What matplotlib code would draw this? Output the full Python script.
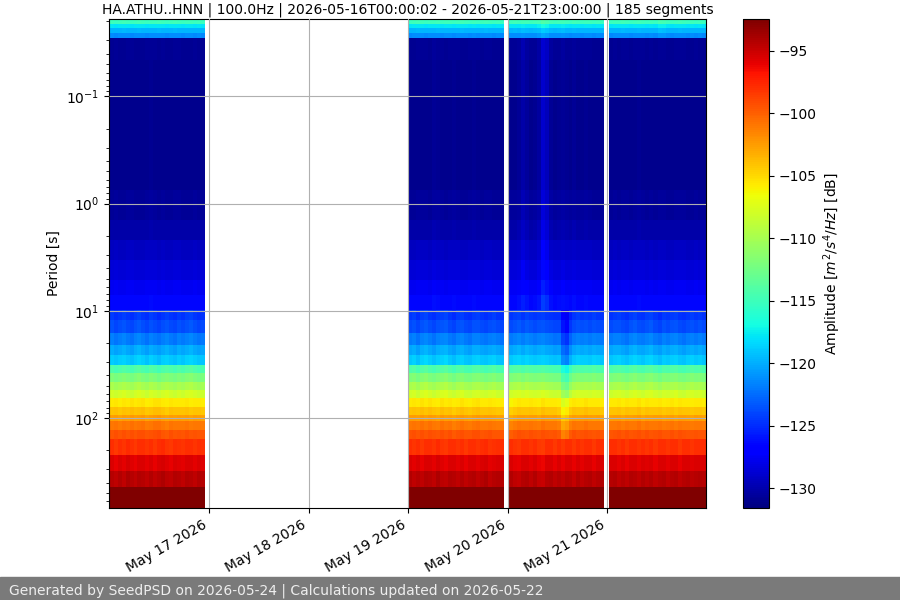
import datetime as dt
import numpy as np
import matplotlib
matplotlib.use('Agg')
import matplotlib.pyplot as plt
import matplotlib.dates as mdates

# period bins [s], short to long
period_edges = [0.019, 0.0211, 0.0230, 0.0256, 0.0285, 0.0457, 0.205, 0.391, 0.743,
                1.416, 2.17, 3.34, 5.13, 7.08, 9.77, 12.1, 16.0, 20.7, 25.6, 31.8,
                37.7, 45.8, 54.4, 64.5, 78.3, 93.0, 105.7, 128, 156, 219, 309, 436, 690]

# typical amplitude per period bin [dB]
band_db = [-115.1, -117.9, -119.8, -121.4, -130.9, -131.1, -131.1, -131.1, -130.7,
           -130.2, -129.4, -128.6, -127.7, -126.5, -124.7, -123.8, -122.0, -120.3,
           -119.0, -114.3, -112.0, -110.0, -108.1, -105.7, -104.2, -102.6, -101.0,
           -99.5, -98.0, -95.7, -94.4, -92.2]

# start and length [h] of each recorded day
day_starts = [dt.datetime(2026, 5, 16), dt.datetime(2026, 5, 19, 0, 0),
              dt.datetime(2026, 5, 20, 0, 16), dt.datetime(2026, 5, 21, 0, 23)]
day_hours = [22.97, 22.97, 22.97, 23.4]

# hourly departures from band_db, one list per day
top_dev = [
    [0.1, 0.0, 0.1, 0.2, 0.1, 0.0, 0.1, 0.2, 0.1, 0.0, 0.1, 0.1, 0.2, 0.1, 0.0, 0.1, 0.2, 0.1, 0.0, 0.1, 0.1, 0.0, 0.1, 0.0],
    [0.0, 0.1, 0.2, 0.1, 0.0, 0.1, 0.1, 0.2, 0.0, 0.1, 0.1, 0.0, 0.1, 0.2, 0.1, 0.0, 0.1, 0.0, 0.1, 0.2, 0.1, 0.0, 0.1, 0.0],
    [0.1, 0.2, 0.1, 0.3, 0.2, 0.1, 0.2, 0.4, 1.0, 0.7, 0.2, 0.1, 0.2, 0.3, 0.1, 0.0, 0.2, 0.1, 0.0, 0.1, 0.1, 0.0, 0.1, 0.0],
    [0.0, 0.1, 0.1, 0.2, 0.1, 0.0, 0.1, 0.2, 0.1, 0.0, 0.1, 0.0, 0.5, 0.4, 0.1, 0.0, 0.1, 0.2, 0.1, 0.0, 0.1, 0.0, 0.1, 0.0],
]
short_dev = [
    [0.0, 0.1, 0.0, 0.0, 0.1, 0.1, 0.0, 0.0, 0.0, 0.1, 0.2, 0.1, 0.0, 0.1, 0.0, 0.0, 0.1, 0.1, 0.0, 0.0, 0.0, 0.1, 0.0, 0.0],
    [0.0, 0.0, 0.1, 0.1, 0.1, 0.0, 0.3, 0.2, 0.1, 0.0, 0.1, 0.2, 0.1, 0.0, 0.0, 0.1, 0.2, 0.1, 0.0, 0.1, 0.1, 0.0, 0.0, 0.0],
    [0.1, 0.1, 0.3, 1.0, 0.5, 0.1, 0.2, 0.6, 2.2, 1.6, 0.4, 0.1, 0.2, 0.4, 0.2, 0.1, 0.3, 0.1, 0.1, 0.2, 0.1, 0.0, 0.0, 0.0],
    [0.0, 0.1, 0.0, 0.1, 0.1, 0.0, 0.1, 0.2, 0.1, 0.0, 0.1, 0.0, 0.1, 0.1, 0.0, 0.0, 0.1, 0.1, 0.1, 0.0, 0.0, 0.1, 0.0, 0.0],
]
mid_dev = [
    [0.2, -0.2, 0.1, 0.4, 0.0, -0.3, 0.2, 0.5, 0.1, -0.3, 0.3, 0.0, -0.4, 0.1, 0.4, 0.0, -0.3, 0.2, -0.1, 0.3, 0.5, 0.1, -0.2, -0.1],
    [0.0, 0.3, -0.3, 0.3, 0.6, 0.1, -0.3, 0.2, 0.4, 0.6, 0.0, -0.4, 0.2, 0.4, -0.1, -0.3, 0.2, 0.3, 0.0, -0.2, 0.1, 0.3, -0.1, -0.3],
    [0.0, 0.3, 0.5, 0.1, 0.5, 0.2, 0.0, 0.2, 0.4, 0.1, -0.1, -0.3, -0.2, -2.2, -2.8, -0.9, 0.0, 0.3, 0.1, 0.2, 0.0, 0.3, 0.1, -0.1],
    [-0.1, 0.2, 0.3, 0.0, -0.3, 0.2, 0.5, 0.1, -0.1, 0.3, 0.5, 0.0, -0.4, 0.2, 0.0, 0.2, 0.4, -0.1, -0.3, 0.1, 0.3, 0.0, 0.2, -0.1],
]
long_dev = [
    [0.0, 0.2, -0.1, 0.2, 0.0, 0.3, 0.0, 0.2, 0.3, -0.1, 0.1, 0.3, 0.4, 0.0, -0.2, 0.2, 0.0, 0.1, 0.0, 0.2, -0.1, 0.1, 0.0, -0.1],
    [0.1, 0.2, 0.0, 0.3, 0.0, 0.3, 0.1, -0.1, 0.3, 0.0, 0.2, -0.2, 0.1, 0.3, 0.0, -0.1, 0.2, 0.3, 0.0, 0.1, 0.2, 0.0, -0.1, 0.0],
    [-0.4, -0.1, 0.2, 0.1, 0.0, 0.2, 0.1, -0.1, 0.3, 0.1, 0.0, 0.1, -0.2, -1.9, -1.4, -0.2, 0.2, 0.0, 0.1, 0.3, 0.1, 0.0, 0.1, -0.1],
    [0.0, 0.1, 0.2, -0.1, 0.2, 0.0, 0.1, 0.3, -0.1, 0.2, 0.0, 0.1, 0.2, -0.1, 0.0, 0.2, -0.1, 0.2, 0.1, 0.0, -0.1, 0.1, 0.0, -0.1],
]
deep_dev = [
    [0.1, -0.3, 0.2, -0.2, 0.3, 0.0, -0.3, 0.2, 0.1, -0.2, 0.2, -0.3, 0.1, 0.3, -0.1, -0.3, 0.2, 0.0, -0.2, 0.2, 0.1, -0.2, 0.2, 0.0],
    [0.2, -0.2, 0.1, -0.3, 0.2, 0.1, -0.2, 0.3, -0.1, -0.3, 0.2, 0.1, -0.2, 0.2, -0.3, 0.1, 0.2, -0.2, 0.1, 0.3, -0.2, 0.0, 0.2, 0.1],
    [0.2, -0.2, -0.4, 0.1, 0.2, -0.2, 0.2, -0.4, -0.5, 0.1, 0.2, -0.3, 0.1, -0.3, 0.2, 0.1, -0.4, 0.2, -0.2, 0.1, 0.2, -0.3, 0.1, 0.2],
    [0.1, 0.2, -0.2, 0.1, -0.3, 0.2, 0.1, -0.2, 0.2, -0.1, 0.2, -0.3, 0.1, 0.2, -0.2, 0.1, 0.2, -0.3, 0.1, 0.2, -0.1, 0.1, 0.2, 0.1],
]

title = 'HA.ATHU..HNN | 100.0Hz | 2026-05-16T00:00:02 - 2026-05-21T23:00:00 | 185 segments'
footer = 'Generated by SeedPSD on 2026-05-24 | Calculations updated on 2026-05-22'
cbar_ticks = [-95, -100, -105, -110, -115, -120, -125, -130]

fig = plt.figure(figsize=(9, 6), dpi=100)
ax = fig.add_axes([109 / 900, 1 - 508 / 600, 597 / 900, 489 / 600])
cax = fig.add_axes([743 / 900, 1 - 508 / 600, 26 / 900, 489 / 600])

for i, start in enumerate(day_starts):
    # 24 hourly columns per recorded day
    x = mdates.date2num(start) + np.arange(25) * day_hours[i] / 24 / 24
    z = np.array([band_db] * 24).T
    z[:4, :] += np.array(top_dev[i])
    z[4:14, :] += np.array(short_dev[i])
    z[14:23, :] += np.array(mid_dev[i])
    z[23:28, :] += np.array(long_dev[i])
    z[28:31, :] += np.array(deep_dev[i])
    mesh = ax.pcolormesh(x, period_edges, z, cmap='jet', vmin=-131.6, vmax=-92.44)

ax.set_yscale('log')
ax.set_ylim(690, 0.019)
ax.set_xlim(mdates.date2num(dt.datetime(2026, 5, 15, 23, 50)), mdates.date2num(dt.datetime(2026, 5, 21, 23, 46)))
ax.xaxis.set_major_formatter(mdates.DateFormatter('%b %d %Y'))
ax.set_xticks(mdates.date2num([dt.datetime(2026, 5, d) for d in range(17, 22)]))
plt.setp(ax.get_xticklabels(), rotation=30, ha='right')
ax.set_ylabel('Period [s]')
ax.set_title(title, fontsize=10, pad=4)
ax.grid(True)
ax.set_axisbelow(False)

cbar = fig.colorbar(mesh, cax=cax, ticks=cbar_ticks)
cbar.set_label('Amplitude [$m^2/s^4/Hz$] [dB]', labelpad=3)

# grey strip along the bottom
fig.patches.append(plt.Rectangle((0, 0), 1, 23.5 / 600, transform=fig.transFigure, color='#7a7a7a'))
fig.text(9 / 900, 9.5 / 600, footer, color='#eeeeee', fontsize=10, va='center')

fig.savefig('out.png', dpi=100)
